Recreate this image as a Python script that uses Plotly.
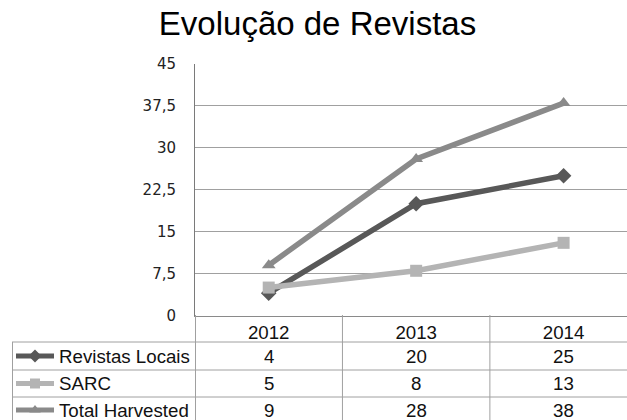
import plotly.graph_objects as go

# ---- data ----
years = ["2012", "2013", "2014"]
series_names = ["Revistas Locais", "SARC", "Total Harvested"]
revistas_locais = [4, 20, 25]
sarc = [5, 8, 13]
total_harvested = [9, 28, 38]
title_text = "Evolução de Revistas"

series_values = [revistas_locais, sarc, total_harvested]
colors = ["#585858", "#b4b4b4", "#8a8a8a"]
symbols = ["diamond", "square", "triangle-up"]

W, H = 627, 420
def py(p):  # pixel y -> paper
    return 1 - p / H
def px(p):
    return p / W

fig = go.Figure()

for name, vals, c, s in zip(series_names, series_values, colors, symbols):
    fig.add_trace(go.Scatter(
        x=years, y=vals, mode="lines+markers", name=name,
        line=dict(color=c, width=5.5),
        marker=dict(symbol=s, size=12, color=c),
        showlegend=False, cliponaxis=False,
    ))

# legend keys inside the data table (pixel overlay axes)
row_centers = [356, 383.5, 410]
for name, c, s, yc in zip(series_names, colors, symbols, row_centers):
    fig.add_trace(go.Scatter(
        x=[16, 35, 54], y=[yc, yc, yc], mode="lines",
        line=dict(color=c, width=5), xaxis="x2", yaxis="y2",
        showlegend=False, hoverinfo="skip",
    ))
    fig.add_trace(go.Scatter(
        x=[35], y=[yc], mode="markers",
        marker=dict(symbol=s, size=10, color=c), xaxis="x2", yaxis="y2",
        showlegend=False, hoverinfo="skip",
    ))

grid_col = "#a0a0a0"
shapes = []
for yl in [342, 370, 397]:
    shapes.append(dict(type="line", xref="paper", yref="paper",
                       x0=px(12), x1=1, y0=py(yl), y1=py(yl),
                       line=dict(color=grid_col, width=1)))
shapes.append(dict(type="line", xref="paper", yref="paper",
                   x0=px(12.5), x1=px(12.5), y0=py(342), y1=0,
                   line=dict(color=grid_col, width=1)))
shapes.append(dict(type="line", xref="paper", yref="paper",
                   x0=px(195.5), x1=px(195.5), y0=py(315), y1=0,
                   line=dict(color=grid_col, width=1)))
for xb in [0.5, 1.5]:
    shapes.append(dict(type="line", xref="x", yref="paper",
                       x0=xb, x1=xb, y0=py(315), y1=0,
                       line=dict(color=grid_col, width=1)))

annotations = []
table_font = dict(family="Liberation Sans, Arial", size=18.7, color="#111111")
for name, vals, yc in zip(series_names, series_values, row_centers):
    annotations.append(dict(x=px(57), y=py(yc), xref="paper", yref="paper",
                            text=name, showarrow=False, xanchor="left",
                            yanchor="middle", font=table_font))
    for i, v in enumerate(vals):
        annotations.append(dict(x=i, y=py(yc), xref="x", yref="paper",
                                text=str(v), showarrow=False, xanchor="center",
                                yanchor="middle", font=table_font))

fig.update_layout(
    width=W, height=H, autosize=False,
    margin=dict(l=0, r=0, t=0, b=0, pad=0, autoexpand=False),
    paper_bgcolor="white", plot_bgcolor="white",
    separators=",.",
    title=dict(text=title_text, x=317.5 / W, xanchor="center",
               y=py(23), yanchor="middle", yref="container", automargin=False,
               font=dict(family="Liberation Sans, Arial", size=33, color="#000000")),
    xaxis=dict(
        type="category", categoryorder="array", categoryarray=years,
        domain=[px(195), 1], range=[-0.5, 2.43], automargin=False,
        showgrid=False, showline=True, linecolor="#8a8a8a", linewidth=1,
        ticks="", ticklabelstandoff=0,
        tickfont=table_font, zeroline=False, fixedrange=True,
    ),
    yaxis=dict(
        domain=[py(315.5), py(64)], range=[0, 45], dtick=7.5, tick0=0,
        automargin=False,
        showgrid=True, gridcolor=grid_col, gridwidth=1,
        showline=True, linecolor="#7a7a7a", linewidth=1,
        ticks="", ticklabelstandoff=15,
        tickfont=dict(family="DejaVu Sans, Verdana", size=15, color="#222222"),
        zeroline=False, fixedrange=True,
    ),
    xaxis2=dict(domain=[0, px(195)], range=[0, 195], visible=False,
                anchor="y2", fixedrange=True, automargin=False),
    yaxis2=dict(domain=[0, 1], range=[H, 0], visible=False,
                anchor="x2", fixedrange=True, automargin=False),
    shapes=shapes,
    annotations=annotations,
)

fig.write_html("out.html", config={"displayModeBar": False},
               post_script="document.body.style.margin='0';document.body.style.overflow='hidden';")
